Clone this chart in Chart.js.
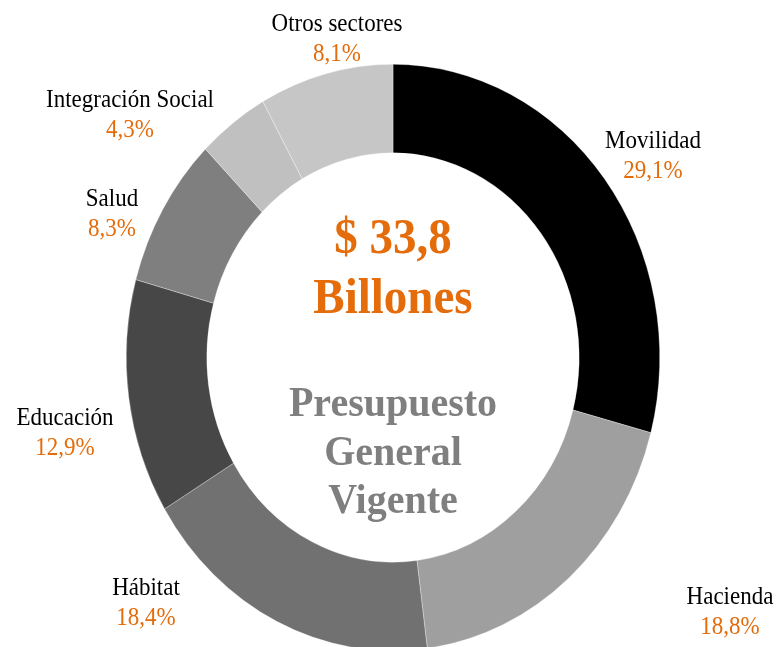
<!DOCTYPE html>
<html>
<head>
<meta charset="utf-8">
<script src="https://cdn.jsdelivr.net/npm/chart.js@4.4.0/dist/chart.umd.min.js"></script>
<style>
  html, body { margin: 0; padding: 0; background: #ffffff; }
  #wrap { width: 778px; height: 647px; position: relative; }
  canvas { display: block; }
</style>
</head>
<body>
<div id="wrap"><canvas id="c" width="778" height="647"></canvas></div>
<script>
// ---- data ----
const categories = ["Movilidad", "Hacienda", "Hábitat", "Educación", "Salud", "Integración Social", "Otros sectores"];
const shares = [29.1, 18.8, 18.4, 12.9, 8.3, 4.3, 8.1];
const shareLabels = ["29,1%", "18,8%", "18,4%", "12,9%", "8,3%", "4,3%", "8,1%"];
const totalLabel = ["$ 33,8", "Billones"];
const centerTitle = ["Presupuesto", "General", "Vigente"];

// ---- styles / layout ----
const sliceColors = ["#000000", "#9f9f9f", "#717171", "#474747", "#7f7f7f", "#c0c0c0", "#c6c6c6"];
const ORANGE = "#e46c0a";
const GREY = "#7f7f7f";
const FONT = "'Liberation Serif', 'Times New Roman', serif";
const Y_STRETCH = 293.5 / 267;
const TEXT_STRETCH = 1.08;
// label anchors: [centerX, name baseline]
const labelAnchors = [
  [653, 148], [730, 604], [146, 595], [65, 425], [112, 206], [130, 107], [337, 31]
];

const stretchPlugin = {
  id: 'stretch',
  beforeDatasetsDraw(chart) {
    const arc = chart.getDatasetMeta(0).data[0];
    const ctx = chart.ctx;
    ctx.save();
    ctx.translate(arc.x, arc.y);
    ctx.scale(1, Y_STRETCH);
    ctx.translate(-arc.x, -arc.y);
  },
  afterDatasetsDraw(chart) {
    chart.ctx.restore();
  }
};

function tallText(ctx, txt, x, y) {
  ctx.save();
  ctx.translate(x, y);
  ctx.scale(1, TEXT_STRETCH);
  ctx.fillText(txt, 0, 0);
  ctx.restore();
}

const labelPlugin = {
  id: 'labels',
  afterDraw(chart) {
    const ctx = chart.ctx;
    const arc = chart.getDatasetMeta(0).data[0];
    ctx.save();
    ctx.textAlign = 'center';
    ctx.textBaseline = 'alphabetic';
    categories.forEach((name, i) => {
      const [x, y] = labelAnchors[i];
      ctx.font = "23px " + FONT;
      ctx.fillStyle = "#000000";
      tallText(ctx, name, x, y);
      ctx.fillStyle = ORANGE;
      tallText(ctx, shareLabels[i], x, y + 30);
    });
    const cx = arc.x;
    ctx.font = "bold 47px " + FONT;
    ctx.fillStyle = ORANGE;
    tallText(ctx, totalLabel[0], cx, 253);
    tallText(ctx, totalLabel[1], cx, 313);
    ctx.font = "bold 40px " + FONT;
    ctx.fillStyle = GREY;
    tallText(ctx, centerTitle[0], cx, 416);
    tallText(ctx, centerTitle[1], cx, 465);
    tallText(ctx, centerTitle[2], cx, 513);
    ctx.restore();
  }
};

new Chart(document.getElementById('c'), {
  type: 'doughnut',
  data: {
    labels: categories,
    datasets: [{
      data: shares,
      backgroundColor: sliceColors,
      borderColor: 'rgba(255,255,255,0.6)',
      borderWidth: 0.5,
      clip: false
    }]
  },
  options: {
    responsive: false,
    animation: false,
    devicePixelRatio: 1,
    cutout: '69.8%',
    rotation: 0,
    layout: { padding: { left: 126, right: 118, top: 90.5, bottom: 22.5 } },
    plugins: {
      legend: { display: false },
      tooltip: { enabled: false }
    }
  },
  plugins: [stretchPlugin, labelPlugin]
});
</script>
</body>
</html>
